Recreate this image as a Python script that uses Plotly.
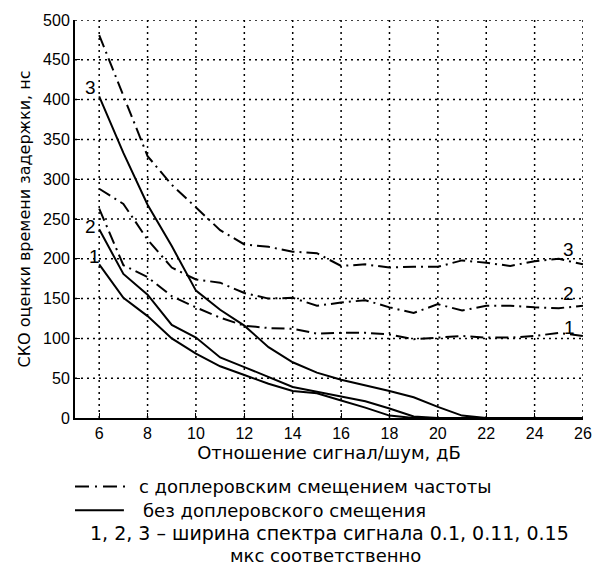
import plotly.graph_objects as go

snr = [6, 7, 8, 9, 10, 11, 12, 13, 14, 15, 16, 17, 18, 19, 20, 21, 22, 23, 24, 25, 26]

# without Doppler shift (solid)
solid_1 = [193, 151, 128, 100, 81, 65, 54, 43, 34, 31, 22, 13, 3, 0, 0, 0, 0, 0, 0, 0, 0]
solid_2 = [237, 181, 155, 117, 101, 76, 64, 52, 39, 33, 27, 21, 12, 2, 0, 0, 0, 0, 0, 0, 0]
solid_3 = [404, 333, 268, 216, 160, 136, 116, 89, 70, 57, 48, 41, 34, 26, 14, 3, 0, 0, 0, 0, 0]

# with Doppler shift (dash-dot)
dd_1 = [263, 192, 177, 153, 139, 126, 116, 113, 112, 106, 107, 107, 105, 99, 101, 103, 101, 101, 103, 107, 103]
dd_2 = [288, 269, 224, 189, 174, 170, 157, 150, 151, 141, 145, 148, 139, 132, 143, 135, 141, 141, 139, 138, 141]
dd_3 = [481, 404, 329, 293, 265, 236, 218, 215, 209, 207, 191, 193, 189, 190, 190, 198, 195, 191, 197, 200, 193]

x_ticks = [6, 8, 10, 12, 14, 16, 18, 20, 22, 24, 26]
y_ticks = [0, 50, 100, 150, 200, 250, 300, 350, 400, 450, 500]
x_range = [5, 26]
y_range = [0, 500]

TICK_FONT = "Arial, Liberation Sans, sans-serif"
TEXT_FONT = "DejaVu Sans, sans-serif"
DASHDOT = "13px,5px,2px,5px"
GRID_DASH = "2px,4px"

L, R, T, B = 75, 20, 17, 151
W, H = 604, 569
PW, PH = W - L - R, H - T - B


def px(xp):
    return (xp - L) / PW


def py(yp):
    return (H - B - yp) / PH


fig = go.Figure()

# dotted grid, built from the tick arrays and drawn through the axes
gx, gy = [], []
for xv in x_ticks:
    gx += [xv, xv, None]
    gy += [y_range[0], y_range[1], None]
for yv in y_ticks[1:]:
    gx += [x_range[0], x_range[1], None]
    gy += [yv, yv, None]
fig.add_trace(go.Scatter(x=gx, y=gy, mode="lines", hoverinfo="skip", showlegend=False,
                         line=dict(color="#000000", width=1.5, dash=GRID_DASH)))

for ys in (solid_1, solid_2, solid_3):
    fig.add_trace(go.Scatter(x=snr, y=ys, mode="lines",
                             line=dict(color="black", width=2), showlegend=False))
for ys in (dd_1, dd_2, dd_3):
    fig.add_trace(go.Scatter(x=snr, y=ys, mode="lines",
                             line=dict(color="black", width=2, dash=DASHDOT), showlegend=False))

annotations = []
for txt, xv, yv in [("3", 5.65, 415), ("2", 5.65, 240), ("1", 5.8, 203),
                    ("3", 25.4, 212), ("2", 25.4, 157), ("1", 25.45, 114)]:
    annotations.append(dict(x=xv, y=yv, xref="x", yref="y", text=txt, showarrow=False,
                            font=dict(family=TICK_FONT, size=19, color="black")))

legend_texts = [
    ("с доплеровским смещением частоты", 137, 487, "left", 18),
    ("без доплеровского смещения", 141, 511, "left", 18),
    ("1, 2, 3 – ширина спектра сигнала 0.1, 0.11, 0.15", 330, 534, "center", 19),
    ("мкс соответственно", 326, 557, "center", 18),
]
for txt, xp, yp, anchor, fs in legend_texts:
    annotations.append(dict(x=px(xp), y=py(yp), xref="paper", yref="paper", text=txt,
                            showarrow=False, xanchor=anchor, yanchor="middle",
                            font=dict(family=TEXT_FONT, size=fs, color="black")))

shapes = [
    dict(type="line", xref="paper", yref="paper", x0=px(75), x1=px(127), y0=py(487), y1=py(487),
         line=dict(color="black", width=2, dash="14px,6px,2px,6px")),
    dict(type="line", xref="paper", yref="paper", x0=px(75), x1=px(124), y0=py(511), y1=py(511),
         line=dict(color="black", width=2)),
]

fig.update_layout(
    width=W, height=H,
    margin=dict(l=L, r=R, t=T, b=B),
    paper_bgcolor="white", plot_bgcolor="white",
    font=dict(family=TICK_FONT, size=15, color="black"),
    annotations=annotations,
    shapes=shapes,
    showlegend=False,
)
axis_common = dict(ticks="inside", ticklen=5, tickcolor="black", tickwidth=1,
                   showline=True, linecolor="black", linewidth=2, mirror=False,
                   showgrid=False, zeroline=False,
                   tickfont=dict(family=TICK_FONT, size=16, color="black"))
fig.update_xaxes(range=x_range, tickvals=x_ticks, **axis_common,
                 title=dict(text="Отношение сигнал/шум, дБ",
                            font=dict(family=TEXT_FONT, size=18), standoff=4))
fig.update_yaxes(range=y_range, tickvals=y_ticks, **axis_common,
                 title=dict(text="СКО оценки времени задержки, нс",
                            font=dict(family=TEXT_FONT, size=16), standoff=8))

fig.write_html("out.html")
